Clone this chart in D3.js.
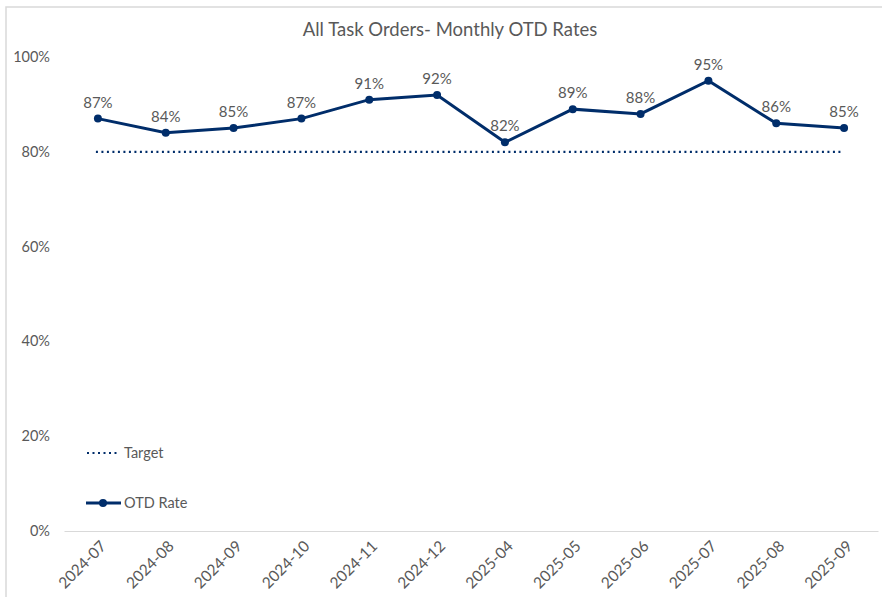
<!DOCTYPE html>
<html>
<head>
<meta charset="utf-8">
<script src="https://cdn.jsdelivr.net/npm/d3@7"></script>
<style>
  body { margin: 0; background: #fff; }
  text { font-family: "Lato", "Open Sans", sans-serif; fill: #595959; }
</style>
</head>
<body>
<script>
// Screen dimensions.
const WIDTH = 882;
const HEIGHT = 597;

// Data
const months = ["2024-07", "2024-08", "2024-09", "2024-10", "2024-11", "2024-12",
                "2025-04", "2025-05", "2025-06", "2025-07", "2025-08", "2025-09"];
const otdRate = [87, 84, 85, 87, 91, 92, 82, 89, 88, 95, 86, 85];
const target = 80;
const yTicks = [0, 20, 40, 60, 80, 100];

const NAVY = "#002d6a";

const svg = d3.select("body").append("svg").attr("width", WIDTH).attr("height", HEIGHT);

// Chart border
svg.append("rect")
  .attr("x", 6).attr("y", 7)
  .attr("width", WIDTH).attr("height", HEIGHT)
  .attr("fill", "none")
  .attr("stroke", "#d9d9d9")
  .attr("stroke-width", 1.5);

// Title
svg.append("text")
  .attr("x", 450).attr("y", 36)
  .attr("text-anchor", "middle")
  .style("font-size", "18.5px")
  .text("All Task Orders- Monthly OTD Rates");

// Scales
const xScale = d3.scaleBand().domain(months).range([64, 878]);
const yScale = d3.scaleLinear().domain([0, 100]).range([531, 57]);
const cx = d => xScale(d) + xScale.bandwidth() / 2;

// Y axis labels
svg.append("g").selectAll("text").data(yTicks).enter().append("text")
  .attr("x", 50)
  .attr("y", d => yScale(d) + 5)
  .attr("text-anchor", "end")
  .style("font-size", "14.5px")
  .text(d => d + "%");

// X axis
const xAxis = svg.append("g")
  .attr("transform", "translate(0," + yScale(0) + ")")
  .call(d3.axisBottom(xScale).tickSize(0).tickPadding(8));
xAxis.select(".domain").attr("stroke", "#d9d9d9").attr("stroke-width", 1.2);
xAxis.selectAll("text")
  .style("font-size", "15.5px")
  .style("font-family", "Lato, 'Open Sans', sans-serif")
  .attr("fill", "#595959")
  .attr("text-anchor", "end")
  .attr("dx", -5)
  .attr("dy", 10)
  .attr("transform", "rotate(-45)");

// Target line
svg.append("line")
  .attr("x1", cx(months[0]) - 2)
  .attr("x2", cx(months[months.length - 1]) - 2)
  .attr("y1", yScale(target))
  .attr("y2", yScale(target))
  .attr("stroke", NAVY)
  .attr("stroke-width", 2.2)
  .attr("stroke-dasharray", "2,3.5");

// OTD line
const line = d3.line().x((d, i) => cx(months[i])).y(d => yScale(d));
svg.append("path")
  .datum(otdRate)
  .attr("d", line)
  .attr("fill", "none")
  .attr("stroke", NAVY)
  .attr("stroke-width", 3);

svg.append("g").selectAll("circle").data(otdRate).enter().append("circle")
  .attr("cx", (d, i) => cx(months[i]))
  .attr("cy", d => yScale(d))
  .attr("r", 4)
  .attr("fill", NAVY);

// Data labels
svg.append("g").selectAll("text").data(otdRate).enter().append("text")
  .attr("x", (d, i) => cx(months[i]))
  .attr("y", d => yScale(d) - 11)
  .attr("text-anchor", "middle")
  .style("font-size", "15px")
  .text(d => d + "%");

// Legend
const legend = svg.append("g");
legend.append("line")
  .attr("x1", 87).attr("x2", 120).attr("y1", 453).attr("y2", 453)
  .attr("stroke", NAVY).attr("stroke-width", 2.2)
  .attr("stroke-dasharray", "2,3.5");
legend.append("text").attr("x", 124).attr("y", 458)
  .style("font-size", "14.5px").text("Target");
legend.append("line")
  .attr("x1", 86).attr("x2", 121).attr("y1", 503).attr("y2", 503)
  .attr("stroke", NAVY).attr("stroke-width", 3);
legend.append("circle").attr("cx", 103).attr("cy", 503).attr("r", 4).attr("fill", NAVY);
legend.append("text").attr("x", 124).attr("y", 508)
  .style("font-size", "14.5px").text("OTD Rate");
</script>
</body>
</html>
